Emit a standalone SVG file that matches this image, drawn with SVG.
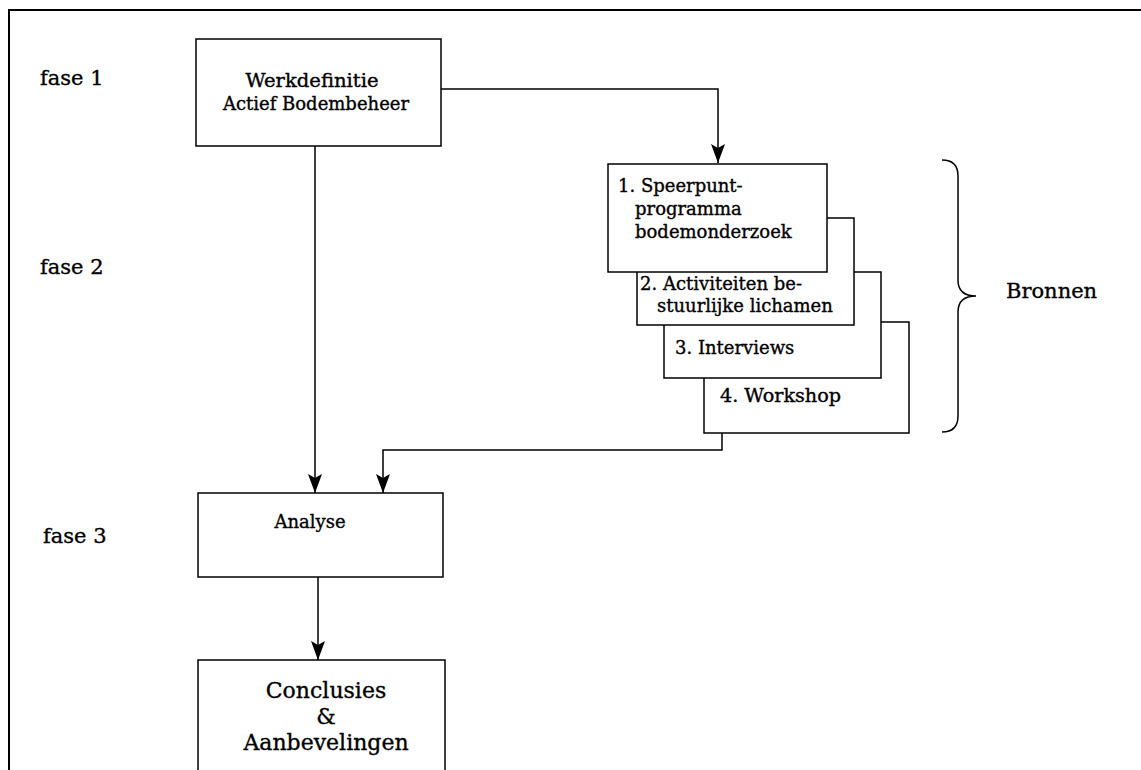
<svg xmlns="http://www.w3.org/2000/svg" width="1141" height="770" viewBox="0 0 1141 770">
<style>
.box{fill:#fff;stroke:#000;stroke-width:1.5}
.ln{fill:none;stroke:#000;stroke-width:1.5}
.t{font-family:"DejaVu Serif","Liberation Serif",serif;fill:#000;stroke:#000;stroke-width:0.35}
.f{font-size:21px}
.b{font-size:18px}
.c{font-size:22px;text-anchor:middle}
.m{text-anchor:middle}
</style>
<defs>
<marker id="ah" markerUnits="userSpaceOnUse" markerWidth="22" markerHeight="16" refX="19" refY="7" orient="auto">
<path d="M0,0 L19,7 L0,14 L4,7 z" fill="#000"/>
</marker>
</defs>
<rect width="1141" height="770" fill="#fff"/>
<g id="frame">
<path class="ln" d="M9,770 L9,10 L1141,10" style="stroke-width:2"/>
</g>
<g id="labels">
<text class="t f" x="40" y="85">fase 1</text>
<text class="t f" x="40" y="274">fase 2</text>
<text class="t f" x="43" y="543">fase 3</text>
</g>
<g id="connectors">
<path class="ln" d="M441,89 L718,89 L718,163" marker-end="url(#ah)"/>
<path class="ln" d="M315,146 L315,493" marker-end="url(#ah)"/>
<path class="ln" d="M722,433 L722,450 L383,450 L383,493" marker-end="url(#ah)"/>
<path class="ln" d="M318,577 L318,660" marker-end="url(#ah)"/>
</g>
<g id="werkdefinitie">
<rect class="box" x="196" y="39" width="245" height="107"/>
<text class="t b m" x="312" y="87" textLength="133" lengthAdjust="spacingAndGlyphs">Werkdefinitie</text>
<text class="t b m" x="316" y="110">Actief Bodembeheer</text>
</g>
<g id="bron4">
<rect class="box" x="704" y="322" width="205" height="111"/>
<text class="t b" x="720" y="402" textLength="121" lengthAdjust="spacingAndGlyphs">4. Workshop</text>
</g>
<g id="bron3">
<rect class="box" x="664" y="272" width="217" height="106"/>
<text class="t b" x="675" y="354">3. Interviews</text>
</g>
<g id="bron2">
<rect class="box" x="637" y="218" width="217" height="107"/>
<text class="t b" x="640" y="290">2. Activiteiten be-</text>
<text class="t b" x="657" y="312">stuurlijke lichamen</text>
</g>
<g id="bron1">
<rect class="box" x="608" y="164" width="219" height="108"/>
<text class="t b" x="618" y="192">1. Speerpunt-</text>
<text class="t b" x="635" y="215">programma</text>
<text class="t b" x="635" y="238">bodemonderzoek</text>
</g>
<g id="bronnen">
<path class="ln" d="M942,160 Q958,160 958,176 L958,280 Q958,296 976,296 Q958,296 958,312 L958,416 Q958,432 942,432"/>
<text class="t" style="font-size:21px" x="1006" y="298">Bronnen</text>
</g>
<g id="analyse">
<rect class="box" x="198" y="493" width="245" height="84"/>
<text class="t b m" x="310" y="528">Analyse</text>
</g>
<g id="conclusies">
<rect class="box" x="198" y="660" width="247" height="130"/>
<text class="t c" x="326" y="698">Conclusies</text>
<text class="t c" x="326" y="724">&amp;</text>
<text class="t c" x="326" y="750">Aanbevelingen</text>
</g>
</svg>
